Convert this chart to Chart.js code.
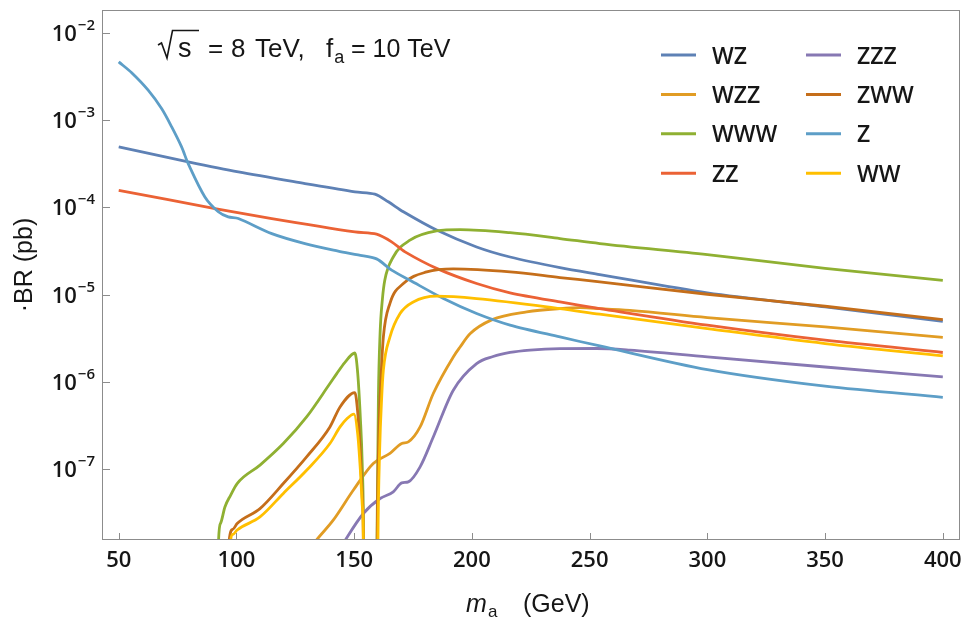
<!DOCTYPE html>
<html><head><meta charset="utf-8">
<script src="https://cdn.jsdelivr.net/npm/chart.js@4.4.0/dist/chart.umd.min.js"></script>
<style>html,body{margin:0;padding:0;background:#fff;}#wrap{width:963px;height:619px;position:relative;}</style>
</head><body><div id="wrap"><canvas id="c" width="963" height="619"></canvas></div>
<script>
// ---- data ----
const xTicks = [50, 100, 150, 200, 250, 300, 350, 400];
const yTicks = [1e-7, 1e-6, 1e-5, 1e-4, 1e-3, 1e-2];
const yTickExp = ['−7', '−6', '−5', '−4', '−3', '−2'];
const seriesNames = ['WZ', 'WZZ', 'WWW', 'ZZ', 'ZZZ', 'ZWW', 'Z', 'WW'];
const seriesColors = ['#5E81B5', '#E19C24', '#8FB032', '#EB6235', '#8778B3', '#C56E1A', '#5D9EC7', '#FFBF00'];

const wzX = [50, 79.5, 100.8, 129.1, 150.3, 158.8, 164.5, 170.9, 185, 202, 216.2, 237.4, 254.3, 300, 350, 400];
const wzY = [4.94e-4, 3.33e-4, 2.55e-4, 1.88e-4, 1.51e-4, 1.42e-4, 1.16e-4, 8.91e-5, 5.50e-5, 3.52e-5, 2.70e-5, 2.04e-5, 1.70e-5, 1.05e-5, 7.24e-6, 4.95e-6];

const wzzX = [125, 133.8, 141.1, 149.6, 158.1, 165.2, 170.2, 173, 178, 183.6, 192.1, 195, 199.2, 208.4, 223.3, 237.4, 246, 254.3, 267.1, 300, 350, 400];
const wzzY = [7.08e-9, 1.51e-8, 2.59e-8, 5.71e-8, 1.16e-7, 1.51e-7, 1.96e-7, 2.05e-7, 3.04e-7, 7.35e-7, 1.93e-6, 2.51e-6, 3.55e-6, 5.13e-6, 6.34e-6, 6.92e-6, 7.08e-6, 6.92e-6, 6.61e-6, 5.46e-6, 4.27e-6, 3.24e-6];

const wwwX = [92.1, 92.4, 93.3, 95.1, 97.5, 100.3, 110, 119.9, 129.8, 139.7, 142.6, 146, 150.3, 151.5, 152.6, 153.4, 154.0, 154.2, 157, 159.5, 159.7, 160.3, 161, 162, 163, 166.6, 173.7, 185, 195, 216.2, 237.4, 254.3, 300, 350, 400];
const wwwY = [1e-9, 1.51e-8, 2.40e-8, 3.67e-8, 5.00e-8, 6.82e-8, 1.11e-7, 1.96e-7, 3.96e-7, 9.55e-7, 1.24e-6, 1.66e-6, 2.14e-6, 1.26e-6, 3.98e-7, 1.17e-7, 1.51e-8, 1e-9, null, 1e-9, 1.58e-8, 6.76e-7, 3.55e-6, 8.91e-6, 1.46e-5, 2.70e-5, 4.21e-5, 5.37e-5, 5.57e-5, 5.13e-5, 4.40e-5, 3.85e-5, 2.88e-5, 2.00e-5, 1.46e-5];

const zzX = [50, 90.9, 115, 150.3, 159.5, 165.9, 171.6, 185, 202, 216.2, 237.4, 254.3, 300, 350, 400];
const zzY = [1.57e-4, 9.71e-5, 7.46e-5, 5.24e-5, 4.93e-5, 4.03e-5, 3.09e-5, 2.00e-5, 1.34e-5, 1.05e-5, 8.24e-6, 6.92e-6, 4.46e-6, 3.00e-6, 2.17e-6];

const zzzX = [140, 146.1, 153.9, 161, 166.6, 170.2, 173, 178, 183.6, 192.1, 202, 209, 216.2, 224.7, 237.4, 253, 267.1, 300, 350, 400];
const zzzY = [7.94e-9, 1.51e-8, 3.09e-8, 4.59e-8, 5.47e-8, 6.93e-8, 7.13e-8, 1.06e-7, 2.33e-7, 8.02e-7, 1.62e-6, 1.95e-6, 2.17e-6, 2.31e-6, 2.40e-6, 2.41e-6, 2.31e-6, 1.93e-6, 1.48e-6, 1.14e-6];

const zwwX = [96.6, 96.9, 98.5, 100.3, 110, 119.9, 129.8, 139.7, 144, 150.3, 151.5, 152.6, 153.4, 153.9, 154.1, 157, 159.6, 159.8, 160.5, 161.5, 162.4, 165.2, 170.9, 180.8, 192.1, 216.2, 237.4, 254.3, 300, 350, 400];
const zwwY = [1e-9, 1.51e-8, 2.04e-8, 2.37e-8, 3.52e-8, 6.82e-8, 1.38e-7, 3.04e-7, 5.15e-7, 7.53e-7, 4.47e-7, 1.58e-7, 5.01e-8, 1.51e-8, 1e-9, null, 1e-9, 1.58e-8, 2.51e-7, 1.26e-6, 3.27e-6, 7.94e-6, 1.34e-5, 1.82e-5, 1.97e-5, 1.82e-5, 1.57e-5, 1.40e-5, 1.01e-5, 7.36e-6, 5.18e-6];

const zX = [50, 55.5, 62.5, 68.2, 72.5, 76.7, 79.5, 86.6, 92.3, 96.5, 100.8, 115, 129.1, 143.2, 151.7, 159.5, 165.9, 173.7, 187.9, 202, 216.2, 237.4, 254.3, 300, 350, 400];
const zY = [4.67e-3, 3.50e-3, 2.21e-3, 1.36e-3, 8.38e-4, 4.94e-4, 3.18e-4, 1.32e-4, 8.91e-5, 7.78e-5, 7.46e-5, 5.01e-5, 3.85e-5, 3.16e-5, 2.85e-5, 2.57e-5, 1.91e-5, 1.46e-5, 9.02e-6, 6.07e-6, 4.47e-6, 3.27e-6, 2.58e-6, 1.38e-6, 8.91e-7, 6.65e-7];

const wwX = [97.2, 97.5, 98.5, 100.3, 110, 119.9, 129.8, 139.7, 144, 147, 149.9, 151.5, 152.6, 153.4, 153.9, 154.1, 157, 159.8, 160.1, 160.8, 161.7, 162.4, 165.2, 169.5, 175.1, 185, 202, 237.4, 254.3, 300, 350, 400];
const wwY = [1e-9, 1.51e-8, 1.78e-8, 2.00e-8, 2.82e-8, 5.25e-8, 9.68e-8, 1.96e-7, 3.04e-7, 3.80e-7, 4.27e-7, 2.51e-7, 1.0e-7, 3.98e-8, 1.51e-8, 1e-9, null, 1e-9, 1.58e-8, 1.58e-7, 6.76e-7, 1.36e-6, 3.27e-6, 6.07e-6, 8.24e-6, 9.59e-6, 9.02e-6, 6.92e-6, 5.96e-6, 4.08e-6, 2.75e-6, 1.98e-6];

const seriesX = [wzX, wzzX, wwwX, zzX, zzzX, zwwX, zX, wwX];
const seriesY = [wzY, wzzY, wwwY, zzY, zzzY, zwwY, zY, wwY];
const smoothSeries = ['Z', 'WZ', 'ZZ'];

// ---- chart ----
const FRAME = '#8c8c8c';
const TXT = '#161616';
const SANS = '"Liberation Sans", Arial, sans-serif';
const TICKF = '"Open Sans", Roboto, "Liberation Sans", sans-serif';
const TW = 600;

const decor = {
  id: 'decor',
  afterDraw(chart) {
    const { ctx, chartArea: a, scales: { x, y } } = chart;
    ctx.save();
    // frame
    ctx.strokeStyle = FRAME; ctx.lineWidth = 1;
    ctx.strokeRect(a.left + 0.5, a.top + 0.5, a.right - a.left - 1, a.bottom - a.top - 1);
    // inward ticks
    ctx.beginPath();
    x.ticks.forEach(t => { const px = Math.round(x.getPixelForValue(t.value)) + 0.5; ctx.moveTo(px, a.bottom); ctx.lineTo(px, a.bottom - 7); });
    y.ticks.forEach(t => { const py = Math.round(y.getPixelForValue(t.value)) + 0.5; ctx.moveTo(a.left, py); ctx.lineTo(a.left + 8, py); });
    ctx.stroke();
    // y tick labels 10^n
    ctx.fillStyle = TXT; ctx.textBaseline = 'alphabetic'; ctx.textAlign = 'left';
    yTicks.forEach((v, i) => {
      const py = y.getPixelForValue(v);
      ctx.font = TW + ' 15px ' + TICKF;
      const ws = ctx.measureText(yTickExp[i]).width;
      const right = a.left - 7;
      ctx.fillText(yTickExp[i], right - ws, py - 3);
      ctx.font = TW + ' 22px ' + TICKF;
      const wb = ctx.measureText('10').width;
      ctx.fillText('10', right - ws - 1 - wb, py + 8);
    });
    // y title
    ctx.save();
    ctx.translate(25, 265); ctx.rotate(-Math.PI / 2);
    ctx.font = '25px ' + SANS; ctx.textAlign = 'center'; ctx.textBaseline = 'middle';
    ctx.fillText('·BR (pb)', 0, 0);
    ctx.restore();
    // x title
    ctx.textAlign = 'left'; ctx.textBaseline = 'alphabetic';
    ctx.font = 'italic 25px ' + SANS; ctx.fillText('m', 466, 612);
    ctx.font = '17px ' + SANS; ctx.fillText('a', 488, 617);
    ctx.font = '25px ' + SANS; ctx.fillText('(GeV)', 523, 612);
    // annotation sqrt(s) = 8 TeV, f_a = 10 TeV
    ctx.strokeStyle = TXT; ctx.lineWidth = 1.6; ctx.lineJoin = 'miter';
    ctx.beginPath();
    ctx.moveTo(158, 45); ctx.lineTo(161.5, 43); ctx.lineTo(167, 58); ctx.lineTo(172.5, 30.5); ctx.lineTo(199, 30.5);
    ctx.stroke();
    ctx.font = '27px ' + SANS;
    ctx.fillText('s', 178, 57);
    ctx.font = '26px ' + SANS;
    ctx.fillText('=', 208, 57);
    ctx.fillText('8', 231, 57);
    ctx.fillText('TeV,', 255, 57);
    ctx.fillText('f', 326, 57);
    const wf = ctx.measureText('f').width;
    ctx.font = '18px ' + SANS; ctx.fillText('a', 326 + wf + 1, 63);
    ctx.font = '25px ' + SANS; ctx.fillText('= 10 TeV', 351, 57);
    // legend
    chart.data.datasets.forEach((ds, i) => {
      const col = Math.floor(i / 4), row = i % 4;
      const lx = 661 + col * 145, ly = 55 + row * 39.4;
      ctx.strokeStyle = ds.borderColor; ctx.lineWidth = 3;
      ctx.beginPath(); ctx.moveTo(lx, ly); ctx.lineTo(lx + 35, ly); ctx.stroke();
      ctx.fillStyle = TXT; ctx.font = TW + ' 23px ' + TICKF;
      ctx.fillText(ds.label, lx + 51, ly + 8.5);
    });
    ctx.restore();
  }
};

const datasets = seriesNames.map((name, i) => ({
  label: name,
  data: seriesX[i].map((xv, j) => ({ x: xv, y: seriesY[i][j] })),
  borderColor: seriesColors[i],
  backgroundColor: seriesColors[i],
  borderWidth: 2.8,
  pointRadius: 0,
  fill: false,
  cubicInterpolationMode: smoothSeries.includes(name) ? 'default' : 'monotone',
  tension: smoothSeries.includes(name) ? 0.3 : 0,
  spanGaps: false,
  clip: 0,
  order: seriesNames.length - i
}));

new Chart(document.getElementById('c'), {
  type: 'line',
  data: { datasets },
  options: {
    responsive: false,
    animation: false,
    devicePixelRatio: 1,
    layout: { padding: { top: 10, right: 3, left: 0, bottom: 0 } },
    plugins: { legend: { display: false }, tooltip: { enabled: false } },
    scales: {
      x: {
        type: 'linear', min: 42.9, max: 407.3,
        afterBuildTicks: s => { s.ticks = xTicks.map(v => ({ value: v })); },
        afterFit: s => { s.height = 79; s.paddingLeft = 0; s.paddingRight = 0; },
        grid: { display: false, drawTicks: false },
        border: { display: false },
        ticks: { color: TXT, font: { family: TICKF, size: 22, weight: TW }, padding: 8, maxRotation: 0, callback: v => String(v) }
      },
      y: {
        type: 'logarithmic', min: 1.535e-8, max: 1.837e-2,
        afterBuildTicks: s => { s.ticks = yTicks.map(v => ({ value: v })); },
        afterFit: s => { s.width = 102; s.paddingTop = 0; s.paddingBottom = 0; },
        grid: { display: false, drawTicks: false },
        border: { display: false },
        ticks: { display: false }
      }
    }
  },
  plugins: [decor]
});
</script>
</body></html>
